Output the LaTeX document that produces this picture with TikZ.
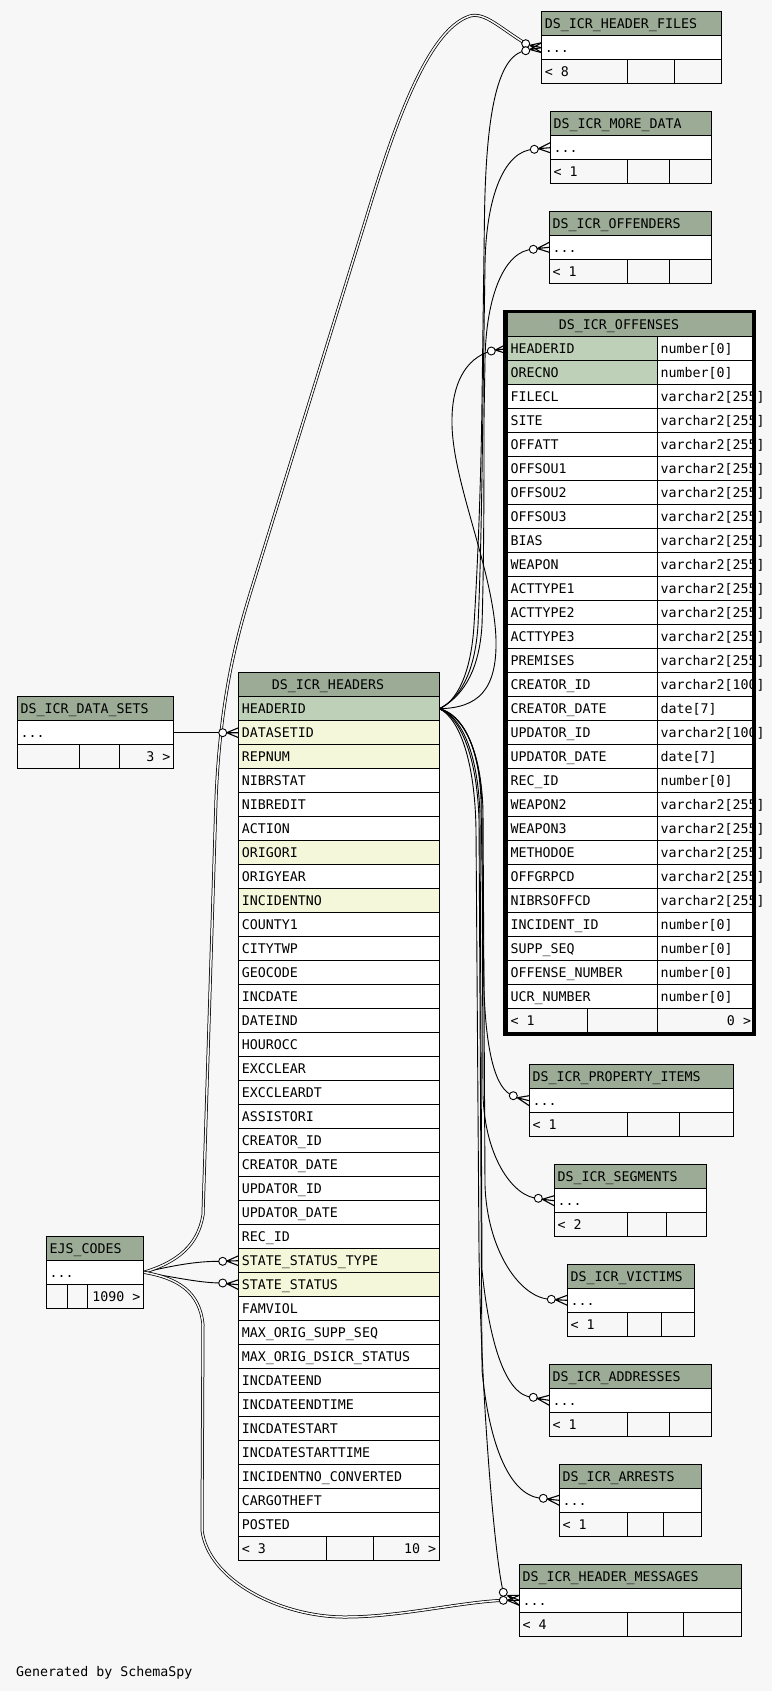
\documentclass[tikz,border=0pt]{standalone}
\usepackage{fontspec}
\newfontfamily\monof{DejaVu Sans Mono}
\usetikzlibrary{calc}
\definecolor{bgc}{HTML}{F7F7F7}
\definecolor{ttl}{HTML}{9BAB96}
\definecolor{pkc}{HTML}{BED1B8}
\definecolor{fkc}{HTML}{F4F7DA}
\pgfdeclarelayer{bgl}
\pgfdeclarelayer{edges}
\pgfsetlayers{bgl,edges,main}
\tikzset{
  txt/.style={font={\monof\fontsize{13.3}{16}\selectfont}, inner sep=0pt, anchor=base west},
  txtr/.style={txt, anchor=base east},
  txtc/.style={txt, anchor=base},
  grid/.style={draw=black, line width=1pt},
  link/.style={draw=black, line width=0.9pt},
  dlink/.style={draw=black, line width=0.75pt, double=bgc, double distance=1.5pt},
  crowl/.style={draw=black, line width=1.1pt},
  dot/.style={draw=black, line width=0.9pt, fill=white},
}
% small table: name, x0, y0, x1, d1, d2, title, footer-left, footer-right
\newcommand\smtab[9]{%
  \path[grid,fill=ttl] (#2,#3) rectangle (#4,{#3+24});
  \node[txt] (#1-t) at ({#2+3},{#3+17}) {#7};
  \path[grid,fill=white] (#2,{#3+24}) rectangle (#4,{#3+48});
  \node[txt] (#1-d) at ({#2+3},{#3+41}) {...};
  \path[grid,fill=bgc] (#2,{#3+48}) rectangle (#5,{#3+72});
  \path[grid,fill=bgc] (#5,{#3+48}) rectangle (#6,{#3+72});
  \path[grid,fill=bgc] (#6,{#3+48}) rectangle (#4,{#3+72});
  \node[txt] (#1-fl) at ({#2+3},{#3+65}) {#8};
  \node[txtr] (#1-fr) at ({#4-3},{#3+65}) {#9};
  \coordinate (#1-in) at (#2,{#3+36});
  \coordinate (#1-out) at (#4,{#3+36});
}
% crow's foot with open circle at a table edge point; #2 = vertical offset of circle
\newcommand\crowat[2]{%
  \begin{scope}[shift={(#1)}]
    \draw[crowl] (-12,{0.6*#2}) -- (0,-5) (-12,{0.6*#2}) -- (0,0) (-12,{0.6*#2}) -- (0,5);
    \draw[dot] (-16,#2) circle (4pt);
  \end{scope}}
\begin{document}
\begin{tikzpicture}[x=1pt,y=-1pt]
\begin{pgfonlayer}{bgl}
\fill[bgc] (0,0) rectangle (772,1691);
\end{pgfonlayer}
\useasboundingbox (0,0) rectangle (772,1691);

% ---------- small tables ----------
\smtab{hf}{541.7}{11.7}{721.3}{627.3}{674.7}{DS\_ICR\_HEADER\_FILES}{< 8}{}
\smtab{md}{550.3}{111.7}{711.3}{627.3}{669.3}{DS\_ICR\_MORE\_DATA}{< 1}{}
\smtab{ofr}{549.3}{211.3}{711.3}{627.3}{669.3}{DS\_ICR\_OFFENDERS}{< 1}{}
\smtab{pi}{529.3}{1064.7}{733.3}{627.3}{679.3}{DS\_ICR\_PROPERTY\_ITEMS}{< 1}{}
\smtab{seg}{554.3}{1164.7}{706.3}{627.3}{666.7}{DS\_ICR\_SEGMENTS}{< 2}{}
\smtab{vic}{567.3}{1264.3}{694.7}{627.3}{661.3}{DS\_ICR\_VICTIMS}{< 1}{}
\smtab{adr}{549.3}{1364.3}{711.3}{627.3}{669.7}{DS\_ICR\_ADDRESSES}{< 1}{}
\smtab{arr}{559.3}{1464.3}{701.3}{627.3}{663.3}{DS\_ICR\_ARRESTS}{< 1}{}
\smtab{hm}{519.3}{1564.3}{741.7}{627.3}{683.7}{DS\_ICR\_HEADER\_MESSAGES}{< 4}{}
\smtab{ds}{17.3}{696.7}{173.7}{79.3}{119.3}{DS\_ICR\_DATA\_SETS}{}{3 >}
\smtab{ejs}{46.3}{1236.3}{143.7}{67.7}{87.7}{EJS\_CODES}{}{1090 >}

% ---------- DS_ICR_HEADERS ----------
\path[grid,fill=ttl] (238.7,672.7) rectangle (439.3,696.7);
\node[txtc] (h-t) at (328,689.7) {DS\_ICR\_HEADERS};
\foreach \nm/\cl [count=\i from 0] in {HEADERID/pkc, DATASETID/fkc, REPNUM/fkc, NIBRSTAT/white, NIBREDIT/white, ACTION/white, ORIGORI/fkc, ORIGYEAR/white, INCIDENTNO/fkc, COUNTY1/white, CITYTWP/white, GEOCODE/white, INCDATE/white, DATEIND/white, HOUROCC/white, EXCCLEAR/white, EXCCLEARDT/white, ASSISTORI/white, CREATOR\_ID/white, CREATOR\_DATE/white, UPDATOR\_ID/white, UPDATOR\_DATE/white, REC\_ID/white, STATE\_STATUS\_TYPE/fkc, STATE\_STATUS/fkc, FAMVIOL/white, MAX\_ORIG\_SUPP\_SEQ/white, MAX\_ORIG\_DSICR\_STATUS/white, INCDATEEND/white, INCDATEENDTIME/white, INCDATESTART/white, INCDATESTARTTIME/white, INCIDENTNO\_CONVERTED/white, CARGOTHEFT/white, POSTED/white} {
  \path[grid,fill=\cl] (238.7,{696.7+24*\i}) rectangle (439.3,{720.7+24*\i});
  \node[txt] (h-\i) at (241.7,{713.7+24*\i}) {\nm};
}
\path[grid,fill=bgc] (238.7,1536.7) rectangle (326.3,1560.7);
\path[grid,fill=bgc] (326.3,1536.7) rectangle (373.3,1560.7);
\path[grid,fill=bgc] (373.3,1536.7) rectangle (439.3,1560.7);
\node[txt] (h-fl) at (241.7,1553.7) {< 3};
\node[txtr] (h-fr) at (436.3,1553.7) {10 >};
\coordinate (hid) at (439.3,708.7);
\coordinate (dsid-in) at (238.7,732.7);
\coordinate (sst-in) at (238.7,1260.7);
\coordinate (ss-in) at (238.7,1284.7);

% ---------- DS_ICR_OFFENSES ----------
\path[grid,fill=ttl] (507.3,312.7) rectangle (752.7,336.7);
\node[txtc] (o-t) at (619,329.7) {DS\_ICR\_OFFENSES};
\foreach \nm/\ty/\cl [count=\i from 0] in {HEADERID/number[0]/pkc, ORECNO/number[0]/pkc, FILECL/varchar2[255]/white, SITE/varchar2[255]/white, OFFATT/varchar2[255]/white, OFFSOU1/varchar2[255]/white, OFFSOU2/varchar2[255]/white, OFFSOU3/varchar2[255]/white, BIAS/varchar2[255]/white, WEAPON/varchar2[255]/white, ACTTYPE1/varchar2[255]/white, ACTTYPE2/varchar2[255]/white, ACTTYPE3/varchar2[255]/white, PREMISES/varchar2[255]/white, CREATOR\_ID/varchar2[100]/white, CREATOR\_DATE/date[7]/white, UPDATOR\_ID/varchar2[100]/white, UPDATOR\_DATE/date[7]/white, REC\_ID/number[0]/white, WEAPON2/varchar2[255]/white, WEAPON3/varchar2[255]/white, METHODOE/varchar2[255]/white, OFFGRPCD/varchar2[255]/white, NIBRSOFFCD/varchar2[255]/white, INCIDENT\_ID/number[0]/white, SUPP\_SEQ/number[0]/white, OFFENSE\_NUMBER/number[0]/white, UCR\_NUMBER/number[0]/white} {
  \path[grid,fill=\cl] (507.3,{336.7+24*\i}) rectangle (657.3,{360.7+24*\i});
  \path[grid,fill=white] (657.3,{336.7+24*\i}) rectangle (752.7,{360.7+24*\i});
  \node[txt] (o-\i) at (510.3,{353.7+24*\i}) {\nm};
  \node[txt] (o-\i-ty) at (660.3,{353.7+24*\i}) {\ty};
}
\path[grid,fill=bgc] (507.3,1008.7) rectangle (587.3,1032.7);
\path[grid,fill=bgc] (587.3,1008.7) rectangle (657.3,1032.7);
\path[grid,fill=bgc] (657.3,1008.7) rectangle (752.7,1032.7);
\node[txt] (o-fl) at (510.3,1025.7) {< 1};
\node[txtr] (o-fr) at (751.2,1025.7) {0 >};
\draw[line width=3.2pt] (505,311.5) rectangle (754,1034.5);
\coordinate (ofs-in) at (507.3,348.7);

% ---------- connector end points (circle centres) ----------
\coordinate (hf-c1) at ($(hf-in)+(-16,-4)$);
\coordinate (hf-c2) at ($(hf-in)+(-16,3)$);
\coordinate (md-c) at ($(md-in)+(-16,1.6)$);
\coordinate (ofr-c) at ($(ofr-in)+(-16,2)$);
\coordinate (ofs-c) at ($(ofs-in)+(-16,2.3)$);
\coordinate (pi-c) at ($(pi-in)+(-16,-5)$);
\coordinate (seg-c) at ($(seg-in)+(-16,-2.4)$);
\coordinate (vic-c) at ($(vic-in)+(-16,-1)$);
\coordinate (adr-c) at ($(adr-in)+(-16,-3)$);
\coordinate (arr-c) at ($(arr-in)+(-16,-2)$);
\coordinate (hm-c1) at ($(hm-in)+(-16,-8)$);
\coordinate (hm-c2) at ($(hm-in)+(-16,0)$);
\coordinate (dsid-c) at ($(dsid-in)+(-16,0)$);
\coordinate (sst-c) at ($(sst-in)+(-16,0.6)$);
\coordinate (ss-c) at ($(ss-in)+(-16,-1.7)$);

% ---------- connectors ----------
\begin{pgfonlayer}{edges}
\draw[link] (ds-out) -- (dsid-c);
\draw[link] (ejs-out) .. controls (180,1264) and (200,1261) .. (sst-c);
\draw[link] (ejs-out) .. controls (180,1278) and (200,1283) .. (ss-c);
\draw[dlink] (ejs-out) .. controls (178,1262) and (198,1245) .. (203,1215) -- (216,800) .. controls (220,700) and (236,640) .. (250,594) -- (365,222) .. controls (390,140) and (425,30) .. (470,16) .. controls (485,12) and (500,28) .. (hf-c1);
\draw[dlink] (ejs-out) .. controls (178,1278) and (200,1292) .. (203,1325) -- (202,1530) .. controls (208,1580) and (280,1617) .. (345,1617) .. controls (400,1617) and (460,1602) .. (hm-c2);
% up from HEADERID
\draw[link] (hid) .. controls (456,702) and (471,675) .. (474,625) .. controls (478,560) and (481,480) .. (482,400) -- (484.5,215) .. controls (486,120) and (496,55) .. (hf-c2);
\draw[link] (hid) .. controls (458,700) and (475,675) .. (478,625) .. controls (481,560) and (482,480) .. (483,400) -- (485,265) .. controls (486,195) and (505,150) .. (md-c);
\draw[link] (hid) .. controls (460,698) and (479,675) .. (482,625) .. controls (484,560) and (484,480) .. (484,420) -- (485,360) .. controls (486,295) and (505,250) .. (ofr-c);
\draw[link] (hid) .. controls (478,708) and (497,690) .. (496,640) .. controls (494,570) and (451,480) .. (452,420) .. controls (452,385) and (465,358) .. (ofs-c);
% down from HEADERID
\draw[link] (hid) .. controls (462,714) and (479,745) .. (481,800) -- (484,990) .. controls (486,1050) and (495,1090) .. (pi-c);
\draw[link] (hid) .. controls (463,715) and (480,748) .. (482,805) -- (483,1095) .. controls (485,1160) and (515,1198) .. (seg-c);
\draw[link] (hid) .. controls (464,716) and (481,750) .. (483,810) -- (485,1185) .. controls (487,1250) and (520,1299) .. (vic-c);
\draw[link] (hid) .. controls (461,716) and (478,752) .. (480,815) -- (482,1270) .. controls (489,1340) and (505,1397) .. (adr-c);
\draw[link] (hid) .. controls (460,717) and (477,755) .. (479,820) -- (482,1370) .. controls (489,1445) and (510,1498) .. (arr-c);
\draw[link] (hid) .. controls (459,718) and (475,760) .. (476,830) -- (479,1250) .. controls (481,1400) and (495,1560) .. (hm-c1);
\end{pgfonlayer}

% ---------- crow's feet ----------
\crowat{hf-in}{-4}
\crowat{hf-in}{3}
\crowat{md-in}{1.6}
\crowat{ofr-in}{2}
\crowat{ofs-in}{2.3}
\crowat{pi-in}{-5}
\crowat{seg-in}{-2.4}
\crowat{vic-in}{-1}
\crowat{adr-in}{-3}
\crowat{arr-in}{-2}
\crowat{hm-in}{-8}
\crowat{hm-in}{0}
\crowat{dsid-in}{0}
\crowat{sst-in}{0.6}
\crowat{ss-in}{-1.7}

\node[txt] (gen) at (16,1676.7) {Generated by SchemaSpy};
\end{tikzpicture}
\end{document}
